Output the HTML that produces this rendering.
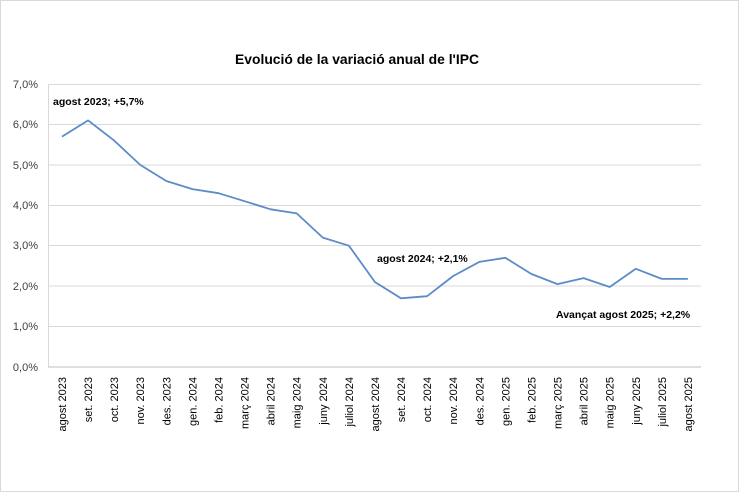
<!DOCTYPE html>
<html><head><meta charset="utf-8"><style>
html,body{margin:0;padding:0;background:#fff;}
svg{display:block;font-family:"Liberation Sans",sans-serif;}
</style></head><body>
<svg width="740" height="493" viewBox="0 0 740 493">
<rect x="0.5" y="0.5" width="738" height="491" fill="#fff" stroke="#d9d9d9"/>
<text x="357" y="64" font-size="14" font-weight="bold" text-anchor="middle" textLength="244" lengthAdjust="spacingAndGlyphs" fill="#000">Evolució de la variació anual de l'IPC</text>
<g stroke="#d9d9d9" stroke-width="1">
<line x1="48" x2="701" y1="84.5" y2="84.5"/>
<line x1="48" x2="701" y1="124.5" y2="124.5"/>
<line x1="48" x2="701" y1="165" y2="165"/>
<line x1="48" x2="701" y1="205.5" y2="205.5"/>
<line x1="48" x2="701" y1="245.5" y2="245.5"/>
<line x1="48" x2="701" y1="286" y2="286"/>
<line x1="48" x2="701" y1="326.5" y2="326.5"/>
<line x1="48.5" x2="48.5" y1="84" y2="367"/>
</g>
<line x1="48" x2="701" y1="367" y2="367" stroke="#bfbfbf"/>
<g font-size="11" fill="#404040" text-anchor="end">
<text x="38" y="88">7,0%</text><text x="38" y="128">6,0%</text><text x="38" y="169">5,0%</text><text x="38" y="209">4,0%</text><text x="38" y="249">3,0%</text><text x="38" y="290">2,0%</text><text x="38" y="330">1,0%</text><text x="38" y="371">0,0%</text>
</g>
<polyline fill="none" stroke="#5b8cc8" stroke-width="1.8" stroke-linejoin="round" points="62,136.6 88.1,120.4 114.2,140.6 140.2,164.9 166.3,181 192.4,189.1 218.5,193.2 244.6,201.2 270.6,209.3 296.7,213.4 322.8,237.6 348.9,245.7 375,282.1 401,298.3 427.1,296.2 453.2,276 479.3,261.9 505.4,257.8 531.4,274 557.5,284.1 583.6,278.1 609.7,287 635.8,268.8 661.8,278.9 687.9,278.9"/>
<g font-size="10.5" font-weight="bold" fill="#000">
<text x="53" y="105">agost 2023; +5,7%</text>
<text x="377" y="262">agost 2024;  +2,1%</text>
<text x="556" y="318">Avançat agost 2025; +2,2%</text>
</g>
<g font-size="11" fill="#000" text-anchor="end">
<text transform="translate(66,377) rotate(-90)">agost 2023</text>
<text transform="translate(92.1,377) rotate(-90)">set. 2023</text>
<text transform="translate(118.2,377) rotate(-90)">oct. 2023</text>
<text transform="translate(144.2,377) rotate(-90)">nov. 2023</text>
<text transform="translate(170.3,377) rotate(-90)">des. 2023</text>
<text transform="translate(196.4,377) rotate(-90)">gen. 2024</text>
<text transform="translate(222.5,377) rotate(-90)">feb. 2024</text>
<text transform="translate(248.6,377) rotate(-90)">març 2024</text>
<text transform="translate(274.6,377) rotate(-90)">abril 2024</text>
<text transform="translate(300.7,377) rotate(-90)">maig 2024</text>
<text transform="translate(326.8,377) rotate(-90)">juny 2024</text>
<text transform="translate(352.9,377) rotate(-90)">juliol 2024</text>
<text transform="translate(379,377) rotate(-90)">agost 2024</text>
<text transform="translate(405,377) rotate(-90)">set. 2024</text>
<text transform="translate(431.1,377) rotate(-90)">oct. 2024</text>
<text transform="translate(457.2,377) rotate(-90)">nov. 2024</text>
<text transform="translate(483.3,377) rotate(-90)">des. 2024</text>
<text transform="translate(509.4,377) rotate(-90)">gen. 2025</text>
<text transform="translate(535.4,377) rotate(-90)">feb. 2025</text>
<text transform="translate(561.5,377) rotate(-90)">març 2025</text>
<text transform="translate(587.6,377) rotate(-90)">abril 2025</text>
<text transform="translate(613.7,377) rotate(-90)">maig 2025</text>
<text transform="translate(639.8,377) rotate(-90)">juny 2025</text>
<text transform="translate(665.8,377) rotate(-90)">juliol 2025</text>
<text transform="translate(691.9,377) rotate(-90)">agost 2025</text>
</g>
</svg>
</body></html>
